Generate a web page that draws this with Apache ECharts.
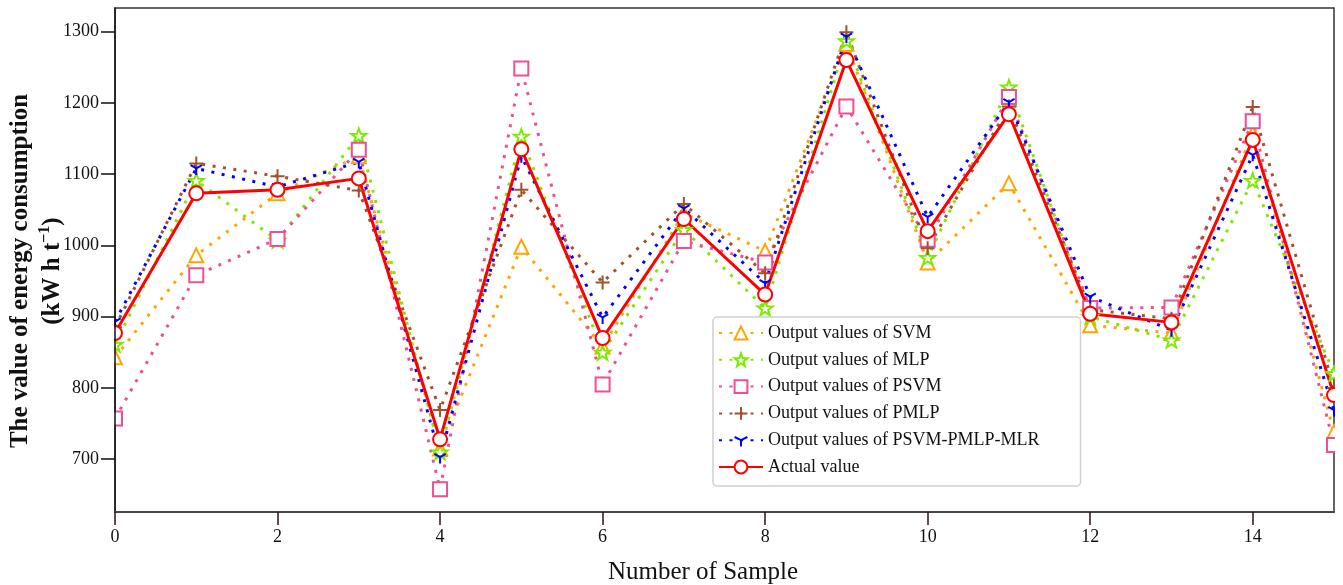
<!DOCTYPE html>
<html>
<head>
<meta charset="utf-8">
<script src="https://cdn.jsdelivr.net/npm/echarts@6/dist/echarts.min.js"></script>
<style>
  html, body { margin: 0; padding: 0; background: #fff; }
  #chart { width: 1343px; height: 585px; }
</style>
</head>
<body>
<div id="chart"></div>
<script>
// Sample index along the x axis
const samples = [0, 1, 2, 3, 4, 5, 6, 7, 8, 9, 10, 11, 12, 13, 14, 15];

// Energy consumption (kW h t^-1) per model
const svmValues      = [843, 986, 1073, 1125, 715, 998, 858, 1045, 992, 1283, 976, 1087, 888, 877, 1157, 738];
const mlpValues      = [861, 1091, 1007, 1154, 710, 1153, 850, 1022, 912, 1287, 983, 1222, 900, 867, 1091, 820];
const psvmValues     = [757, 958, 1009, 1134, 658, 1248, 805, 1006, 976, 1195, 1008, 1208, 912, 913, 1174, 720];
const pmlpValues     = [885, 1115, 1097, 1077, 769, 1078, 948, 1058, 961, 1299, 996, 1195, 910, 897, 1194, 800];
const ensembleValues = [893, 1108, 1082, 1117, 703, 1125, 899, 1052, 947, 1293, 1040, 1201, 928, 881, 1127, 769];
const actualValues   = [877, 1073, 1078, 1094, 728, 1135, 870, 1037, 931, 1260, 1020, 1184, 904, 892, 1148, 790];

// Axis tick labels
const xTicks = [0, 2, 4, 6, 8, 10, 12, 14];
const yTicks = [700, 800, 900, 1000, 1100, 1200, 1300];

const FONT = '"Liberation Serif", "Times New Roman", serif';

const STAR = 'path://M10,0 L12.35,6.76 L19.51,6.91 L13.80,11.24 L15.88,18.09 L10,14 L4.12,18.09 L6.20,11.24 L0.49,6.91 L7.65,6.76 Z';
const PLUS = 'path://M5,0 L5,10 M0,5 L10,5';
const TRI_DOWN = 'path://M5,0 M5,5 L5,10 M5,5 L0.67,2.5 M5,5 L9.33,2.5';

// Plot area box (pixels)
const GRID = { left: 115, right: 9, top: 8, bottom: 73 };
const W = 1343, H = 585;

function pairs(values) {
  return samples.map((x, i) => [x, values[i]]);
}

function dottedSeries(name, values, color, symbol, size, hollowFill) {
  return {
    name: name,
    type: 'line',
    data: pairs(values),
    symbol: symbol,
    symbolSize: size,
    symbolKeepAspect: true,
    showAllSymbol: true,
    lineStyle: { color: color, width: 3, type: [3, 7.5], cap: 'butt' },
    itemStyle: {
      color: hollowFill ? '#fff' : color,
      borderColor: color,
      borderWidth: 2
    },
    emphasis: { disabled: true }
  };
}

const chart = echarts.init(document.getElementById('chart'), null, { renderer: 'canvas' });

chart.setOption({
  animation: false,
  backgroundColor: '#fff',
  grid: Object.assign({
    show: true, borderColor: '#333', borderWidth: 1.5, backgroundColor: 'transparent',
    containLabel: false, outerBoundsMode: 'none'
  }, GRID),
  // white masks so markers sitting on the plot edges are cut at the frame
  graphic: [
    { type: 'rect', z: 5, silent: true,
      shape: { x: 0, y: 0, width: GRID.left - 0.8, height: H },
      style: { fill: '#fff' } },
    { type: 'rect', z: 5, silent: true,
      shape: { x: W - GRID.right + 1, y: 0, width: GRID.right, height: H },
      style: { fill: '#fff' } }
  ],
  xAxis: {
    type: 'value',
    z: 10,
    min: 0, max: 15,
    name: 'Number of Sample',
    nameLocation: 'middle',
    nameGap: 48,
    nameMoveOverlap: false,
    nameTextStyle: { fontFamily: FONT, fontSize: 25, color: '#111', padding: [0, 43, 0, 0] },
    axisLine: { show: true, lineStyle: { color: '#444', width: 2 } },
    axisTick: { show: true, customValues: xTicks, length: 13, inside: false, lineStyle: { color: '#2a1515', width: 1.5 } },
    axisLabel: { customValues: xTicks, fontFamily: FONT, fontSize: 18, color: '#111', margin: 16,
                 formatter: v => String(v) },
    splitLine: { show: false }
  },
  yAxis: {
    type: 'value',
    z: 10,
    min: 626, max: 1333,
    name: 'The value of energy consumption\n(kW h t{sup|−1})',
    nameLocation: 'middle',
    nameRotate: 90,
    nameGap: 46,
    nameMoveOverlap: false,
    nameTextStyle: {
      fontFamily: FONT, fontSize: 25, fontWeight: 'bold', color: '#111',
      lineHeight: 32, padding: [0, 22, 0, 0],
      rich: {
        sup: { fontFamily: FONT, fontSize: 16, fontWeight: 'bold', color: '#111', verticalAlign: 'top', lineHeight: 32 }
      }
    },
    axisLine: { show: true, lineStyle: { color: '#111', width: 1.5 } },
    axisTick: { show: true, customValues: yTicks, length: 14, inside: false, lineStyle: { color: '#111', width: 1.5 } },
    axisLabel: { customValues: yTicks, fontFamily: FONT, fontSize: 18, color: '#111', margin: 16,
                 formatter: v => String(v) },
    splitLine: { show: false }
  },
  legend: {
    z: 6,
    orient: 'vertical',
    left: 713, top: 317,
    padding: [7, 41, 10, 5],
    itemWidth: 44, itemHeight: 16, itemGap: 8.8,
    backgroundColor: '#fff',
    borderColor: '#d0d0d0', borderWidth: 1.5, borderRadius: 4,
    textStyle: { fontFamily: FONT, fontSize: 18, color: '#111' },
    data: [
      'Output values of SVM',
      'Output values of MLP',
      'Output values of PSVM',
      'Output values of PMLP',
      'Output values of PSVM-PMLP-MLR',
      'Actual value'
    ]
  },
  series: [
    dottedSeries('Output values of SVM', svmValues, '#FFA500', 'triangle', 14, true),
    dottedSeries('Output values of MLP', mlpValues, '#7CEB00', STAR, 15, true),
    dottedSeries('Output values of PSVM', psvmValues, '#EE4E92', 'rect', 14, true),
    dottedSeries('Output values of PMLP', pmlpValues, '#A0522D', PLUS, 14, false),
    dottedSeries('Output values of PSVM-PMLP-MLR', ensembleValues, '#0000FF', TRI_DOWN, 13, false),
    {
      name: 'Actual value',
      type: 'line',
      data: pairs(actualValues),
      symbol: 'circle',
      symbolSize: 14,
      showAllSymbol: true,
      lineStyle: { color: '#FF0000', width: 3 },
      itemStyle: { color: '#fff', borderColor: '#FF0000', borderWidth: 2 },
      emphasis: { disabled: true }
    }
  ]
});
</script>
</body>
</html>
